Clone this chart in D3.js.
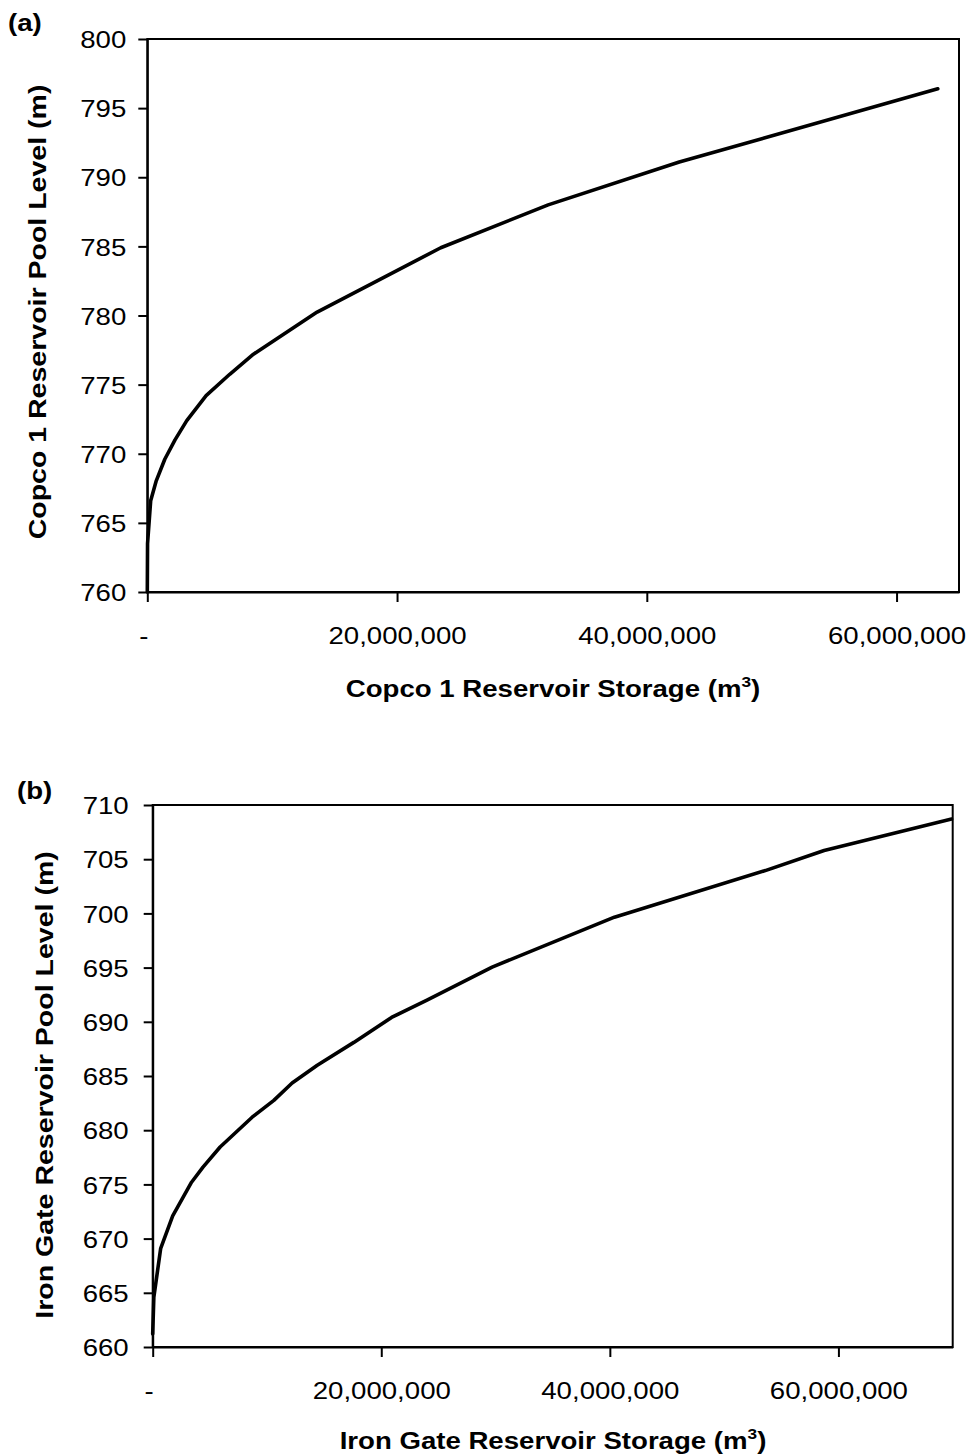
<!DOCTYPE html>
<html>
<head>
<meta charset="utf-8">
<script src="https://cdn.jsdelivr.net/npm/d3@7"></script>
<style>
  html, body { margin: 0; padding: 0; background: #fff; }
  svg { display: block; font-family: "Liberation Sans", Arial, sans-serif; }
</style>
</head>
<body>
<svg id="chart" width="970" height="1456"></svg>
<script>
// Copco 1 reservoir: storage (m3) vs pool level (m)
const copcoStorage = [0, 20000, 270000, 700000, 1400000, 2220000, 3160000, 4710000,
  6600000, 8500000, 13600000, 18600000, 23500000, 32100000, 42600000, 63300000];
const copcoLevel = [760, 763.5, 766.6, 768.0, 769.6, 771.0, 772.4, 774.2,
  775.75, 777.2, 780.25, 782.6, 784.9, 788.0, 791.1, 796.4];

// Iron Gate reservoir: storage (m3) vs pool level (m)
const ironStorage = [0, 100000, 700000, 1750000, 3400000, 4400000, 5900000, 8700000,
  10600000, 12200000, 14400000, 17600000, 20900000, 24000000, 29700000, 40400000,
  53600000, 58750000, 69900000];
const ironLevel = [661.2, 664.6, 669.1, 672.1, 675.2, 676.6, 678.45, 681.2,
  682.75, 684.35, 686.0, 688.1, 690.4, 692.0, 695.05, 699.65, 703.95, 705.8, 708.7];

const storageTicks = [0, 20000000, 40000000, 60000000];
const copcoLevelTicks = [760, 765, 770, 775, 780, 785, 790, 795, 800];
const ironLevelTicks = [660, 665, 670, 675, 680, 685, 690, 695, 700, 705, 710];

const svg = d3.select("#chart");
const STRETCH = 1.15;          // glyphs run a little wide along the text direction
const fmtStorage = d => d === 0 ? "-" : d3.format(",")(d);

function panel(opt) {
  const x = d3.scaleLinear().domain(opt.xDomain).range([opt.left, opt.right]);
  const y = d3.scaleLinear().domain(opt.yDomain).range([opt.bottom, opt.top]);

  // plot frame
  svg.append("rect")
    .attr("x", opt.left).attr("y", opt.top)
    .attr("width", opt.right - opt.left).attr("height", opt.bottom - opt.top)
    .attr("fill", "none").attr("stroke", "#000").attr("stroke-width", 2);

  // y axis
  const gy = svg.append("g")
    .attr("transform", `translate(${opt.left},0)`)
    .call(d3.axisLeft(y).tickValues(opt.yTicks).tickSize(9).tickSizeOuter(0)
      .tickFormat(d3.format("d")));
  gy.select(".domain").attr("stroke-width", 2);
  gy.selectAll(".tick line").attr("stroke-width", 2);
  gy.selectAll(".tick text")
    .attr("x", null).attr("dy", "0.36em")
    .attr("transform", `translate(${-opt.yLabelGap},0) scale(${STRETCH},1)`)
    .attr("font-size", 24).attr("fill", "#000").attr("font-family", "Liberation Sans, Arial, sans-serif");

  // x axis
  const gx = svg.append("g")
    .attr("transform", `translate(0,${opt.bottom})`)
    .call(d3.axisBottom(x).tickValues(storageTicks).tickSize(10).tickSizeOuter(0)
      .tickFormat(fmtStorage));
  gx.select(".domain").attr("stroke-width", 2);
  gx.selectAll(".tick line").attr("stroke-width", 2);
  gx.selectAll(".tick text")
    .attr("y", null).attr("dy", null)
    .attr("transform", d => `translate(${d === 0 ? -4 : 0},${opt.xLabelDrop}) scale(${STRETCH},1)`)
    .attr("font-size", 24).attr("fill", "#000").attr("font-family", "Liberation Sans, Arial, sans-serif");

  // storage-level curve
  const line = d3.line().x(d => x(d[0])).y(d => y(d[1]));
  svg.append("path")
    .datum(d3.zip(opt.storage, opt.level))
    .attr("d", line)
    .attr("fill", "none").attr("stroke", "#000")
    .attr("stroke-width", 3.6).attr("stroke-linejoin", "round").attr("stroke-linecap", "round");

  // x axis title with superscript
  const xt = svg.append("text")
    .attr("transform", `translate(${opt.xTitleX},${opt.xTitleY}) scale(${STRETCH},1)`)
    .attr("text-anchor", "middle").attr("font-size", 24).attr("font-weight", "bold");
  xt.append("tspan").text(opt.xTitle + " (m");
  xt.append("tspan").attr("dy", -10).attr("font-size", 15).text("3");
  xt.append("tspan").attr("dy", 10).text(")");

  // y axis title
  svg.append("text")
    .attr("transform", `translate(${opt.yTitleX},${opt.yTitleY}) rotate(-90) scale(${STRETCH},1)`)
    .attr("text-anchor", "middle").attr("font-size", 24.8).attr("font-weight", "bold")
    .text(opt.yTitle);

  // panel letter
  svg.append("text")
    .attr("transform", `translate(${opt.tagX},${opt.tagY}) scale(${STRETCH},1)`)
    .attr("font-size", 24).attr("font-weight", "bold")
    .text(opt.tag);
}

panel({
  tag: "(a)", tagX: 8, tagY: 31,
  left: 147.3, right: 959, top: 39, bottom: 592,
  xDomain: [0, 65000000], yDomain: [760, 800],
  yTicks: copcoLevelTicks, yLabelGap: 21, xLabelDrop: 52,
  storage: copcoStorage, level: copcoLevel,
  xTitle: "Copco 1 Reservoir Storage", xTitleX: 553, xTitleY: 697,
  yTitle: "Copco 1 Reservoir Pool Level (m)", yTitleX: 46, yTitleY: 312
});

panel({
  tag: "(b)", tagX: 17, tagY: 799,
  left: 152.7, right: 952.7, top: 805, bottom: 1347,
  xDomain: [0, 70000000], yDomain: [660, 710],
  yTicks: ironLevelTicks, yLabelGap: 24, xLabelDrop: 52,
  storage: ironStorage, level: ironLevel,
  xTitle: "Iron Gate Reservoir Storage", xTitleX: 553, xTitleY: 1449,
  yTitle: "Iron Gate Reservoir Pool Level (m)", yTitleX: 53, yTitleY: 1085
});
</script>
</body>
</html>
